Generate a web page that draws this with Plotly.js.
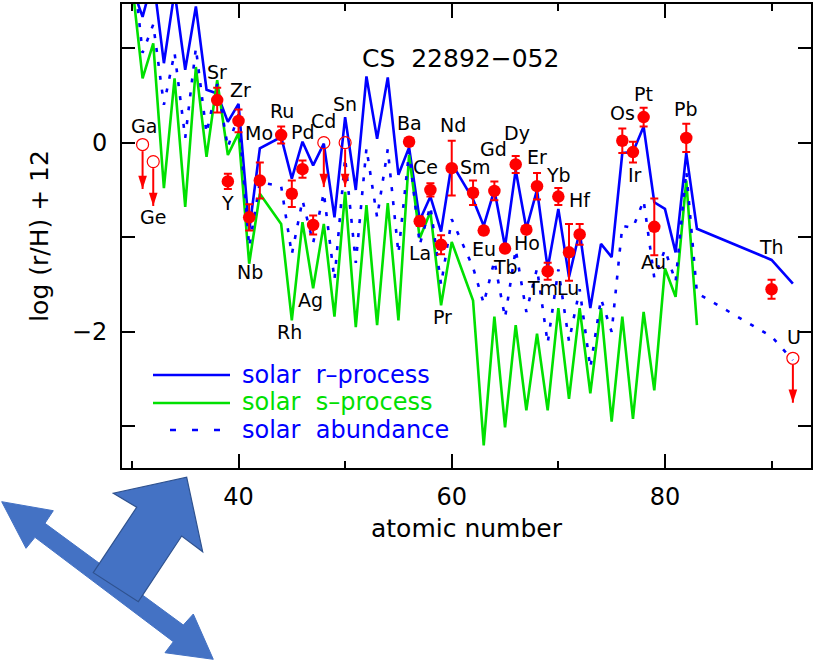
<!DOCTYPE html>
<html>
<head>
<meta charset="utf-8">
<script src="https://cdn.plot.ly/plotly-3.0.1.min.js"></script>
<style>html,body{margin:0;padding:0;background:#fff;}#chart{width:819px;height:663px;}</style>
</head>
<body>
<div id="chart"></div>
<script>
// ---------------- data ----------------
const zCurve = [30,31,32,33,34,35,36,37,38,39,40,41,42,44,45,46,47,48,49,50,51,52,53,54,55,56,57,58,59,60,62,63,64,65,66,67,68,69,70,71,72,73,74,75,76,77,78,79,80,81,82,83];
const rProcess = [1.65,1.33,1.75,0.84,1.6,0.77,1.44,0.56,0.52,0.22,0.41,-0.93,-0.06,0.06,-0.38,0.01,-0.24,-0.01,-0.79,0.27,-0.50,0.70,0.04,0.69,-0.34,-0.05,-0.82,-0.57,-0.94,-0.22,-0.60,-0.88,-0.50,-1.10,-0.29,-0.91,-0.50,-1.33,-0.70,-1.42,-0.94,-1.75,-1.07,-1.21,-0.11,-0.10,0.17,-0.63,-0.70,-1.16,-0.11,-0.91];
const sProcess = [1.7,0.68,1.05,-0.48,0.68,-0.68,0.80,-0.15,0.66,-0.13,0.10,-1.28,-0.54,-0.86,-1.88,-0.84,-1.54,-0.86,-1.84,-0.52,-1.95,-0.66,-1.93,-0.64,-1.88,-0.13,-1.01,-0.73,-1.72,-1.05,-1.67,-3.20,-1.84,-3.01,-1.93,-2.83,-2.02,-2.83,-1.75,-2.71,-1.75,-2.65,-1.75,-2.95,-1.84,-2.92,-1.79,-2.62,-1.33,-1.63,-0.40,-1.93];
const solarTotal = [2.0,0.95,1.25,0.40,0.95,0.05,1.00,0.10,0.62,-0.05,0.30,-1.10,-0.42,-0.46,-1.18,-0.61,-1.06,-0.53,-1.45,-0.16,-1.27,-0.06,-0.79,-0.07,-1.17,-0.09,-1.08,-0.67,-1.50,-0.81,-1.32,-1.70,-1.25,-1.85,-1.13,-1.79,-1.33,-2.12,-1.34,-2.10,-1.55,-2.38,-1.65,-2.00,-0.88,-0.90,-0.61,-1.43,-1.13,-1.47,-0.30,-1.59];
// actinides (after the gap)
const zAct = [90,92];
const rAct = [-1.24,-1.49];
const totAct = [-2.05,-2.30];

// observed abundances of CS 22892-052
const obsEl = ['Sr','Y','Zr','Nb','Mo','Ru','Rh','Pd','Ag','Ba','La','Ce','Pr','Nd','Sm','Eu','Gd','Tb','Dy','Ho','Er','Tm','Yb','Lu','Hf','Os','Ir','Pt','Au','Pb','Th'];
const obsZ = [38,39,40,41,42,44,45,46,47,56,57,58,59,60,62,63,64,65,66,67,68,69,70,71,72,76,77,78,79,82,90];
const obsVal = [0.45,-0.41,0.23,-0.79,-0.40,0.08,-0.54,-0.28,-0.87,0.01,-0.83,-0.50,-1.08,-0.27,-0.53,-0.93,-0.51,-1.12,-0.23,-0.92,-0.46,-1.36,-0.57,-1.16,-0.97,0.02,-0.10,0.27,-0.89,0.05,-1.55];
const obsErr = [0.13,0.08,0.12,0.14,0.19,0.09,0.14,0.09,0.10,0.04,0.05,0.07,0.10,0.29,0.13,0.04,0.10,0.04,0.09,0.04,0.14,0.09,0.09,0.30,0.11,0.13,0.11,0.10,0.30,0.15,0.10];

// upper limits
const limEl = ['Ga','Ge','Cd','Sn','U'];
const limZ = [31,32,48,50,92];
const limVal = [-0.02,-0.20,0.00,0.00,-2.28];

// ---------------- styling (label offsets in px: [dx, dy up]) ----------------
const labelOffset = {
  Sr:[0,28], Y:[0,-22], Zr:[2,31], Nb:[1,-55], Mo:[-1,47], Ru:[1,24], Rh:[-2,-138], Pd:[1,37], Ag:[-3,-75],
  Ba:[0,19], La:[0,-32], Ce:[-5,23], Pr:[1,-72], Nd:[1,43], Sm:[2,26], Eu:[0,-18], Gd:[-1,42], Tb:[0,-18],
  Dy:[1,31], Ho:[1,-13], Er:[0,29], Tm:[-5,-17], Yb:[0,22], Lu:[-1,-36], Hf:[0,34], Os:[0,28], Ir:[2,-23],
  Pt:[0,23], Au:[-1,-35], Pb:[0,29], Th:[0,42], Ga:[1,19], Ge:[0,-55], Cd:[0,22], Sn:[0,39], U:[1,21]
};
const FONT = 'DejaVu Sans, Arial, sans-serif';
const BLUE = '#0000ff', GREEN = '#00e000', RED = '#ff0000';
const ARROW_LEN = 0.47, ARROW_GAP = 0.07;

// ---------------- traces ----------------
const traces = [];
traces.push({x: zCurve.concat([null]).concat(zAct), y: rProcess.concat([null]).concat(rAct), mode:'lines', line:{color:BLUE, width:2.6}, connectgaps:true, hoverinfo:'skip'});
traces.push({x: zCurve, y: sProcess, mode:'lines', line:{color:GREEN, width:2.6}, hoverinfo:'skip'});
traces.push({x: zCurve.concat(zAct), y: solarTotal.concat(totAct), mode:'lines', line:{color:BLUE, width:2.6, dash:'4px,10px'}, hoverinfo:'skip'});

// upper limit shafts
const shX = [], shY = [];
limZ.forEach((z,i)=>{ shX.push(z,z,null); shY.push(limVal[i]-ARROW_GAP, limVal[i]-ARROW_LEN, null); });
traces.push({x: shX, y: shY, mode:'lines', line:{color:RED, width:2}, hoverinfo:'skip'});
traces.push({x: limZ, y: limVal.map(v=>v-ARROW_LEN), mode:'markers', marker:{symbol:'arrow', angle:180, size:14, color:RED}, hoverinfo:'skip'});
traces.push({x: limZ, y: limVal, mode:'markers', marker:{symbol:'circle-open', size:12, color:RED, line:{color:RED, width:1.2}}, hoverinfo:'skip'});

// observed
traces.push({x: obsZ, y: obsVal, mode:'markers', marker:{symbol:'circle', size:12.5, color:RED},
  error_y:{type:'data', array:obsErr, visible:true, color:RED, thickness:2, width:4}, hoverinfo:'skip'});

// ---------------- annotations ----------------
const annotations = [];
function addLabel(el, z, v){
  const o = labelOffset[el];
  annotations.push({x:z, y:v, xref:'x', yref:'y', text:el, showarrow:false, xshift:o[0], yshift:o[1],
    font:{family:FONT, size:19, color:'#000'}});
}
obsEl.forEach((el,i)=>addLabel(el, obsZ[i], obsVal[i]));
limEl.forEach((el,i)=>addLabel(el, limZ[i], limVal[i]));

// plot frame in px -> paper helpers (plot area: x 122..811, y 4..468)
const PL=122, PR=811, PT=4, PB=468;
const PX = p => (p-PL)/(PR-PL);
const PY = p => (PB-p)/(PB-PT);

annotations.push({xref:'paper', yref:'paper', x:PX(460), y:PY(42), text:'CS\u00a0\u00a022892\u2212052', showarrow:false,
  font:{family:FONT, size:25, color:'#000'}});

// manual legend
const legendItems = [
  {text:'solar\u00a0\u00a0r\u2013process', color:BLUE, y:375, dash:'solid', lc:BLUE},
  {text:'solar\u00a0\u00a0s\u2013process', color:GREEN, y:402, dash:'solid', lc:GREEN},
  {text:'solar\u00a0\u00a0abundance', color:BLUE, y:430, dash:'6px,16px', lc:BLUE}
];
const shapes = [];
legendItems.forEach((it,i)=>{
  const x0 = i===2 ? 170 : 153, x1 = i===2 ? 221 : 230;
  shapes.push({type:'line', xref:'paper', yref:'paper', x0:PX(x0), x1:PX(x1), y0:PY(it.y+(i===1?1:0)), y1:PY(it.y+(i===1?1:0)),
    line:{color:it.lc, width:2.6, dash:it.dash}});
  annotations.push({xref:'paper', yref:'paper', x:PX(240), y:PY(it.y), xanchor:'left', yanchor:'middle', text:it.text,
    showarrow:false, font:{family:FONT, size:24, color:it.color}});
});

// decorative blue arrows (outside the plot, pixel coordinates)
function pathFrom(pts){ return 'M' + pts.map(p=>PX(p[0]).toFixed(4)+','+PY(p[1]).toFixed(4)).join(' L') + ' Z'; }
const dbl = [[1.7,501.7],[53.3,510.7],[45,523.3],[183.3,625],[193.3,614],[213.3,659.3],[165,652.7],[173.3,641.7],[35,537.3],[26,548.3]];
const blk = [[186.7,477.3],[202.7,551.7],[181.7,536],[138.3,601.7],[93.3,572.7],[136.7,507.3],[113.3,493.3]];
shapes.push({type:'path', xref:'paper', yref:'paper', path:pathFrom(dbl), fillcolor:'#4472C4', line:{color:'#4472C4', width:1}, layer:'above'});
shapes.push({type:'path', xref:'paper', yref:'paper', path:pathFrom(blk), fillcolor:'#4472C4', line:{color:'#2F528F', width:1.2}, layer:'above'});

// ---------------- layout ----------------
const axisCommon = {showgrid:false, zeroline:false, showline:true, mirror:'ticks', linecolor:'#000', linewidth:2,
  ticks:'inside', tickcolor:'#000', tickwidth:2, tickfont:{family:FONT, size:24, color:'#000'}};
const layout = {
  width:819, height:663,
  margin:{l:PL, r:819-PR, t:PT, b:663-PB, pad:0},
  paper_bgcolor:'#fff', plot_bgcolor:'#fff',
  showlegend:false,
  xaxis: Object.assign({}, axisCommon, {
    range:[29.07, 93.7], tickmode:'array', tickvals:[40,60,80], ticktext:['40','60','80'], ticklen:14,
    ticklabelstandoff:6,
    minor:{tickmode:'array', tickvals:[30,50,70,90], ticks:'inside', ticklen:7, tickwidth:2, tickcolor:'#000'},
    title:{text:'atomic\u00a0number', font:{family:FONT, size:25, color:'#000'}, standoff:10}
  }),
  yaxis: Object.assign({}, axisCommon, {
    range:[-3.44, 1.466], tickmode:'array', tickvals:[-3,-2,-1,0,1], ticktext:['','\u22122','','0',''], ticklen:13,
    ticklabelstandoff:8,
    title:{text:'log\u00a0(r/H)\u00a0+\u00a012', font:{family:FONT, size:25, color:'#000'}, standoff:16}
  }),
  annotations: annotations,
  shapes: shapes
};

Plotly.newPlot('chart', traces, layout, {displayModeBar:false, staticPlot:true});
</script>
</body>
</html>
